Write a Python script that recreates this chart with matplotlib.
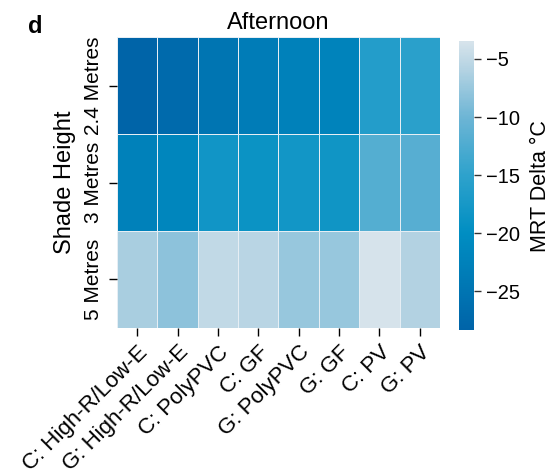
import numpy as np
import matplotlib.pyplot as plt
from matplotlib.colors import LinearSegmentedColormap

plt.rcParams['font.family'] = ['Liberation Sans', 'DejaVu Sans']

# MRT change per shade material and height (afternoon)
materials = ['C: High-R/Low-E', 'G: High-R/Low-E', 'C: PolyPVC', 'C: GF',
             'G: PolyPVC', 'G: GF', 'C: PV', 'G: PV']
heights = ['2.4 Metres', '3 Metres', '5 Metres']
row_24 = [-28.3, -27.0, -25.0, -23.5, -22.6, -22.2, -16.2, -15.5]
row_3 = [-22.6, -21.6, -18.2, -18.8, -18.0, -18.3, -12.0, -11.8]
row_5 = [-6.6, -8.2, -5.0, -5.6, -7.6, -7.6, -3.5, -6.0]

vals = np.array([row_24, row_3, row_5])
vmin, vmax = vals.min(), vals.max()

cmap = LinearSegmentedColormap.from_list('mrt', [
    (0.0, '#0064a8'),
    ((-20 - vmin) / (vmax - vmin), '#008ec2'),
    ((-15 - vmin) / (vmax - vmin), '#2ea2cc'),
    ((-10 - vmin) / (vmax - vmin), '#6db5d5'),
    ((-6 - vmin) / (vmax - vmin), '#b2d2e2'),
    (1.0, '#d6e3eb'),
])

fig = plt.figure(figsize=(5.53, 4.76), dpi=100)
ax = fig.add_axes([0.2116, 0.311, 0.584, 0.611])
cax = fig.add_axes([0.83, 0.307, 0.027, 0.606])

mesh = ax.pcolormesh(vals, cmap=cmap, vmin=vmin, vmax=vmax,
                     edgecolor='#e6eef4', linewidth=0.6)
ax.set_xlim(0, len(materials))
ax.set_ylim(len(heights), 0)
for s in ax.spines.values():
    s.set_visible(False)

ax.set_xticks(np.arange(len(materials)) + 0.5)
ax.set_xticklabels(materials, rotation=45, ha='right', rotation_mode='anchor',
                   fontsize=16)
ax.set_yticks(np.arange(len(heights)) + 0.5)
ax.set_yticklabels(heights, rotation=90, va='center', fontsize=15)
ax.tick_params(length=6, width=1.0, pad=4)
ax.set_ylabel('Shade Height', fontsize=17, labelpad=6)
ax.set_title('Afternoon', fontsize=17, pad=6)

cb = fig.colorbar(mesh, cax=cax)
cb.outline.set_visible(False)
cb.set_ticks([-5, -10, -15, -20, -25])
cb.ax.tick_params(labelsize=14.5, length=5, width=1, color='#333333', pad=4)
cb.set_label('MRT Delta °C', fontsize=15.5, va='center')
cb.ax.yaxis.set_label_coords(5.45, 0.5)

fig.text(0.05, 0.93, 'd', fontsize=17, fontweight='bold')

fig.savefig('out.png', dpi=100)
